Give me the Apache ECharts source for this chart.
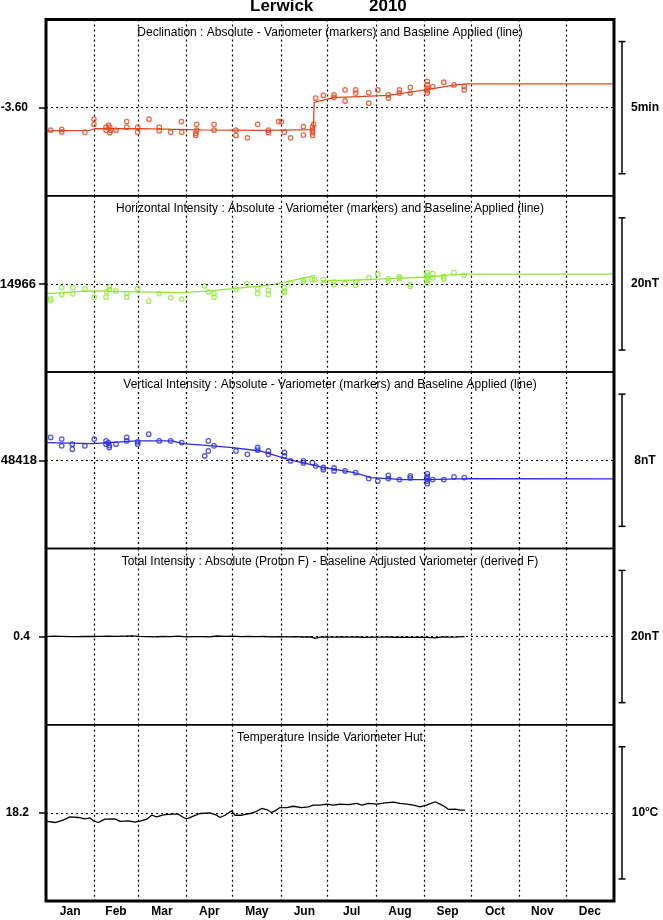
<!DOCTYPE html>
<html><head><meta charset="utf-8">
<script src="https://cdn.jsdelivr.net/npm/echarts@6/dist/echarts.min.js"></script>
<style>html,body{margin:0;padding:0;background:#fff}#c{width:663px;height:920px}</style>
</head><body><div id="c"></div>
<script>
// ---------- data ----------
const months = ['Jan','Feb','Mar','Apr','May','Jun','Jul','Aug','Sep','Oct','Nov','Dec'];
const monthStarts = [0,31,59,90,120,151,181,212,243,273,304,334,365];
const panelTitles = [
  'Declination : Absolute - Variometer (markers) and Baseline Applied (line)',
  'Horizontal Intensity : Absolute - Variometer (markers) and Baseline Applied (line)',
  'Vertical Intensity : Absolute - Variometer (markers) and Baseline Applied (line)',
  'Total Intensity : Absolute (Proton F) - Baseline Adjusted Variometer (derived F)',
  'Temperature Inside Variometer Hut'
];
const refValues = [-3.60, 14966, 48418, 0.4, 18.2];
const refLabels = ['-3.60', '14966', '48418', '0.4', '18.2'];
const scaleSizes = [5/60, 20, 8, 20, 10];
const scaleLabels = ['5min', '20nT', '8nT', '20nT', '10°C'];

const declMarkers = [[3.0,-3.6142],[10.1,-3.6137],[10.1,-3.6153],[25.0,-3.6155],[30.8,-3.6072],[30.8,-3.6105],[38.6,-3.6123],[38.6,-3.6142],[40.2,-3.6110],[41.0,-3.6123],[41.0,-3.6158],[41.6,-3.6142],[45.0,-3.6142],[51.9,-3.6088],[51.9,-3.6123],[58.9,-3.6123],[58.9,-3.6155],[66.2,-3.6073],[72.8,-3.6123],[72.8,-3.6145],[80.1,-3.6155],[87.0,-3.6088],[87.2,-3.6155],[96.8,-3.6105],[96.8,-3.6142],[96.2,-3.6162],[96.2,-3.6175],[108.0,-3.6105],[108.0,-3.6142],[122.1,-3.6142],[122.1,-3.6175],[129.4,-3.6190],[136.0,-3.6105],[142.9,-3.6142],[142.9,-3.6158],[149.5,-3.6088],[151.2,-3.6088],[153.2,-3.6155],[157.2,-3.6190],[165.4,-3.6120],[165.4,-3.6173],[171.3,-3.6123],[171.3,-3.6142],[171.3,-3.6158],[171.3,-3.6175],[172.0,-3.6105],[173.3,-3.5940],[178.2,-3.5923],[185.1,-3.5920],[185.1,-3.5935],[192.2,-3.5888],[192.2,-3.5958],[199.0,-3.5888],[199.0,-3.5908],[207.4,-3.5905],[207.4,-3.5972],[213.2,-3.5888],[220.0,-3.5920],[220.0,-3.5940],[227.1,-3.5888],[227.1,-3.5908],[234.1,-3.5872],[234.1,-3.5908],[245.0,-3.5835],[245.0,-3.5857],[245.0,-3.5877],[245.0,-3.5892],[245.0,-3.5908],[248.5,-3.5867],[255.6,-3.5840],[262.2,-3.5857],[268.8,-3.5867],[268.8,-3.5888]];
const declBaseline = [[0,-3.6147],[28,-3.6143],[31,-3.6133],[60,-3.6132],[100,-3.6140],[140,-3.6143],[171.8,-3.6138],[172.3,-3.5967],[185,-3.5937],[220,-3.5923],[245,-3.5887],[263,-3.5857],[271,-3.5850],[365,-3.5850]];

const hMarkers = [[3,14963.8],[3,14963.5],[10.1,14965.45],[10.1,14964.4],[17.2,14965.45],[17.2,14964.5],[25,14965.25],[31,14964.0],[38.6,14964.0],[39,14964.8],[40.7,14965.6],[40.7,14965.15],[45,14964.95],[51.9,14964.55],[51.9,14964.0],[58.9,14965.3],[66,14963.4],[72.8,14964.55],[80.1,14963.9],[87.2,14963.7],[102,14965.7],[104.3,14964.8],[108,14964.55],[108,14964.0],[122.1,14965.2],[129,14966.05],[136,14965.3],[136,14964.55],[142.9,14965.05],[142.9,14964.4],[153.2,14965.45],[153.2,14964.9],[153.2,14964.7],[157.2,14966.15],[165.4,14966.65],[165.4,14966.3],[171,14966.65],[172.5,14966.65],[178.2,14966.65],[178.2,14966.05],[185,14966.3],[185,14965.9],[192.2,14966.05],[199,14966.3],[199,14965.8],[207.4,14966.95],[213.2,14967.5],[220,14966.8],[220,14966.45],[227.1,14967.05],[227.1,14966.8],[234.1,14965.95],[234.1,14965.65],[245,14967.7],[245,14967.3],[245,14966.95],[245,14966.55],[245,14966.15],[248.5,14967.55],[248.5,14966.95],[255.6,14967.15],[255.6,14966.8],[262.2,14967.7],[268.8,14967.3]];
const hBaseline = [[0,14964.55],[28,14964.95],[60,14964.8],[88,14964.7],[105,14964.95],[120,14965.3],[137,14965.65],[150,14966.1],[173,14967.3],[175,null],[177,14966.45],[200,14966.6],[220,14966.8],[245,14967.05],[262,14967.4],[271,14967.5],[365,14967.5]];

const zMarkers = [[3,48419.38],[10.1,48419.28],[10.1,48418.87],[16.9,48418.97],[16.9,48418.67],[25,48418.87],[31,48419.28],[38.6,48419.17],[38.6,48418.97],[40,48419.07],[40.7,48418.89],[40.7,48418.77],[45,48418.97],[51.9,48419.38],[51.9,48419.17],[58.9,48419.11],[58.9,48418.97],[66,48419.58],[72.8,48419.17],[80.1,48419.17],[87.2,48419.07],[102,48418.26],[104.3,48418.56],[104.3,48419.17],[108,48418.87],[122.1,48418.56],[129.4,48418.36],[136,48418.77],[136,48418.61],[142.9,48418.56],[142.9,48418.36],[153.2,48418.47],[153.2,48418.26],[157.2,48417.96],[165.4,48417.96],[165.4,48417.84],[171.2,48417.86],[173.3,48417.65],[178.2,48417.56],[178.2,48417.43],[185.1,48417.53],[185.1,48417.35],[192.2,48417.35],[199,48417.25],[207.4,48416.89],[213.2,48416.74],[220,48417.09],[220,48416.89],[227.1,48416.83],[234.1,48417.05],[234.1,48416.93],[245,48417.19],[245,48417.03],[245,48416.89],[245,48416.74],[245,48416.58],[248.5,48416.83],[255.6,48416.83],[262.2,48416.99],[268.8,48416.95]];
const zBaseline = [[0,48419.07],[30,48419.0],[58,48419.17],[81,48419.17],[88,48419.0],[107,48418.87],[120,48418.77],[137.5,48418.56],[155.7,48418.06],[176.5,48417.6],[198,48417.25],[209,48416.95],[230,48416.83],[245.7,48416.83],[271,48416.89],[365,48416.87]];

const fDiff = [[0,0.40],[5,0.45],[10,0.42],[15,0.38],[20,0.40],[25,0.43],[30,0.41],[35,0.44],[40,0.46],[45,0.42],[50,0.47],[55,0.50],[60,0.44],[65,0.40],[70,0.36],[75,0.41],[80,0.39],[85,0.45],[90,0.35],[95,0.40],[100,0.38],[105,0.36],[110,0.48],[115,0.42],[120,0.47],[125,0.40],[130,0.43],[135,0.38],[140,0.41],[145,0.36],[150,0.39],[155,0.34],[160,0.38],[165,0.33],[170,0.36],[173,0.12],[176,0.30],[180,0.33],[185,0.30],[190,0.34],[195,0.31],[200,0.33],[205,0.29],[210,0.32],[215,0.30],[220,0.33],[225,0.28],[230,0.31],[235,0.29],[240,0.30],[245,0.28],[250,0.21],[255,0.34],[260,0.32],[265,0.36],[269,0.40]];

const temperature = [[0,17.57],[5.8,17.47],[11,17.65],[15.4,17.9],[20.8,17.85],[25,17.75],[28.3,17.82],[30.4,17.6],[33.6,17.47],[37.9,17.72],[44.3,17.75],[47.6,17.55],[53,17.6],[57.2,17.5],[60.4,17.57],[64.7,17.72],[67.9,18.02],[71.1,17.9],[75.4,18.05],[80.7,18.1],[85,18.1],[88.3,17.85],[90.4,17.75],[94.7,17.95],[99,18.15],[105.4,18.2],[109.7,18.02],[111.8,17.85],[115,18.02],[119.3,18.35],[121.4,18.02],[125.7,18.02],[131.1,18.15],[135,18.3],[138.6,18.53],[141.8,18.45],[145,18.23],[147.2,18.35],[150.4,18.6],[154.7,18.6],[158.9,18.7],[164.3,18.6],[168.6,18.65],[171.8,18.78],[176.1,18.78],[180.4,18.86],[184.7,18.78],[189,18.86],[194.3,18.82],[199.7,18.91],[202.9,18.78],[207.2,18.91],[212.6,18.86],[217.9,18.96],[223.2,19.01],[227.5,18.91],[231.8,18.86],[236,18.78],[240.4,18.66],[244.6,18.78],[250,19.04],[253.2,18.86],[256.4,18.66],[258.6,18.46],[262.9,18.48],[266.1,18.4],[269.3,18.4]];

// ---------- layout / style ----------
const FONT = "'Liberation Sans', Arial, sans-serif";
const L = 46, R = 614, T = 19.5, B = 901;
const PH = (B - T) / 5;
const BAR_FRACTION = 0.75;
const colors = ['#e0461e', '#90e838', '#2a2ae0', '#000', '#000'];
const labelMargins = [18, 10, 9, 16, 17];
const labelSizes = [12, 13, 13, 12, 12];

const panelSeries = [
  {line: declBaseline, markers: declMarkers},
  {line: hBaseline, markers: hMarkers},
  {line: zBaseline, markers: zMarkers},
  {line: fDiff, markers: null},
  {line: temperature, markers: null}
];

const midMonths = months.map((m, i) => (monthStarts[i] + monthStarts[i + 1]) / 2);
const dotted = {color: '#000', type: [2, 3], width: 1.2};

const grids = [], xAxes = [], yAxes = [], series = [], graphics = [];
for (let i = 0; i < 5; i++) {
  const top = T + i * PH;
  const span = scaleSizes[i] / BAR_FRACTION;
  const ymin = refValues[i] - span / 2, ymax = refValues[i] + span / 2;
  grids.push({left: L, top: top, width: R - L, height: PH, show: true,
    outerBoundsMode: 'none', containLabel: false,
    borderColor: '#000', borderWidth: 1.5, backgroundColor: 'transparent'});
  xAxes.push({type: 'value', gridIndex: i, min: 0, max: 365,
    axisLine: {show: false},
    axisTick: {show: false, customValues: monthStarts.slice(1, -1)},
    splitLine: {show: true, lineStyle: dotted},
    axisLabel: i === 4 ? {show: true, customValues: midMonths,
      formatter: v => months[midMonths.findIndex(m => Math.abs(m - v) < 0.01)],
      fontFamily: FONT, fontWeight: 'bold', fontSize: 12, color: '#000', margin: 5} : {show: false}
  });
  yAxes.push({type: 'value', gridIndex: i, min: ymin, max: ymax,
    axisLine: {show: false},
    axisTick: {show: true, customValues: [refValues[i]], length: 7, lineStyle: {color: '#000', width: 1.5}},
    splitLine: {show: false},
    axisLabel: {show: true, customValues: [refValues[i]], formatter: () => refLabels[i],
      fontFamily: FONT, fontWeight: 'bold', fontSize: labelSizes[i], color: '#000', margin: labelMargins[i]}
  });
  const p = panelSeries[i];
  series.push({type: 'line', xAxisIndex: i, yAxisIndex: i, data: p.line,
    showSymbol: false, connectNulls: false, animation: false,
    lineStyle: {color: colors[i], width: 1.3}, itemStyle: {color: colors[i]}, z: 3,
    markLine: {silent: true, symbol: 'none', animation: false,
      label: {show: false}, lineStyle: dotted, data: [{yAxis: refValues[i]}]}
  });
  if (p.markers) {
    series.push({type: 'scatter', xAxisIndex: i, yAxisIndex: i, data: p.markers,
      symbol: 'circle', symbolSize: 4.5, animation: false, z: 4,
      itemStyle: {color: 'rgba(255,255,255,0)', borderColor: colors[i], borderWidth: 1.3}});
  }
  graphics.push({type: 'text', x: (L + R) / 2, y: top + 13,
    style: {text: panelTitles[i], font: '12px ' + FONT, fill: '#000',
      textAlign: 'center', textVerticalAlign: 'middle'}});
}
// scale bars on the right of each panel (same value scale as the panel)
for (let i = 0; i < 5; i++) {
  const top = T + i * PH;
  const span = scaleSizes[i] / BAR_FRACTION;
  const ymin = refValues[i] - span / 2, ymax = refValues[i] + span / 2;
  const gi = 5 + i;
  grids.push({left: 617, top: top, width: 10, height: PH, show: false,
    outerBoundsMode: 'none', containLabel: false});
  xAxes.push({type: 'value', gridIndex: gi, min: 0, max: 1, show: false});
  yAxes.push({type: 'value', gridIndex: gi, min: ymin, max: ymax, position: 'right',
    axisLine: {show: false}, axisTick: {show: false}, splitLine: {show: false},
    axisLabel: {show: true, customValues: [refValues[i]], align: 'center', margin: 18,
      formatter: () => i === 4 ? '{a|10}{s|o}{a|C}' : '{a|' + scaleLabels[i] + '}',
      rich: {a: {fontFamily: FONT, fontWeight: 'bold', fontSize: 12, color: '#000', lineHeight: 14},
             s: {fontFamily: FONT, fontWeight: 'bold', fontSize: 7, color: '#000', verticalAlign: 'top', lineHeight: 14, padding: [0, 0, 6, 0]}}}
  });
  series.push({type: 'line', xAxisIndex: gi, yAxisIndex: gi,
    data: [[0.5, refValues[i] - scaleSizes[i] / 2], [0.5, refValues[i] + scaleSizes[i] / 2]],
    symbol: 'rect', symbolSize: [7, 1.5], showSymbol: true, animation: false,
    lineStyle: {color: '#000', width: 1.5}, itemStyle: {color: '#000'}});
}
graphics.push({type: 'rect', shape: {x: L, y: T, width: R - L, height: B - T},
  style: {fill: 'none', stroke: '#000', lineWidth: 3}, z: 100});
graphics.push({type: 'text', x: 250, y: 6.5,
  style: {text: 'Lerwick', font: 'bold 17px ' + FONT, fill: '#000', textVerticalAlign: 'middle'}});
graphics.push({type: 'text', x: 369, y: 6.5,
  style: {text: '2010', font: 'bold 17px ' + FONT, fill: '#000', textVerticalAlign: 'middle'}});

const chart = echarts.init(document.getElementById('c'), null, {renderer: 'canvas'});
chart.setOption({
  animation: false,
  backgroundColor: '#fff',
  grid: grids, xAxis: xAxes, yAxis: yAxes, series: series, graphic: graphics
});
</script>
</body></html>
